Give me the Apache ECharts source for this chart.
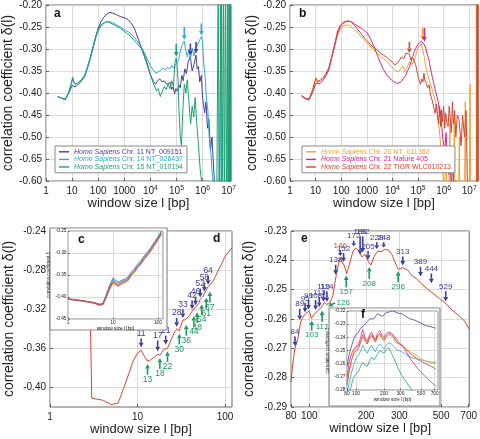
<!DOCTYPE html>
<html><head><meta charset="utf-8">
<script src="https://cdn.jsdelivr.net/npm/echarts@6/dist/echarts.min.js"></script>
<style>html,body{margin:0;padding:0;background:#fff}#c{width:480px;height:439px}</style>
</head><body><div id="c"></div>
<script>
// ---------------- tick labels ----------------
const decadeTicks = [1, 10, 100, 1000, 1e4, 1e5, 1e6, 1e7];
const dTicks = [1, 10, 100];
const eTicks = [80, 100, 200, 300, 500, 700];
const dYTicks = [-0.40, -0.36, -0.32, -0.28, -0.24];

// ---------------- panel a ----------------
const nameA1 = 'Chr. 11 NT_009151', nameA2 = 'Chr. 14 NT_026437', nameA3 = 'Chr. 15 NT_010194';
const aChr11 = [[2.8,-0.408],[4,-0.412],[5.5,-0.415],[7.5,-0.400],[10,-0.383],[11,-0.380],[13,-0.386],[16,-0.382],[22,-0.374],[30,-0.363],[40,-0.340],[50,-0.320],[60,-0.302],[80,-0.272],[100,-0.253],[130,-0.237],[170,-0.227],[220,-0.220],[280,-0.217],[350,-0.218],[500,-0.222],[700,-0.226],[1000,-0.229],[1300,-0.232],[1800,-0.240],[2500,-0.255],[3500,-0.278],[5000,-0.305],[7000,-0.330],[10000,-0.358],[13000,-0.374],[16000,-0.380],[19000,-0.372],[23000,-0.368],[28000,-0.375],[34000,-0.372],[42000,-0.380],[50000,-0.384],[58000,-0.376],[65000,-0.392],[75000,-0.386],[85000,-0.402],[95000,-0.390],[110000,-0.396],[125000,-0.382],[140000,-0.388],[160000,-0.360],[180000,-0.372],[210000,-0.345],[240000,-0.356],[280000,-0.330],[340000,-0.318],[400000,-0.350],[470000,-0.335],[560000,-0.314],[620000,-0.345],[700000,-0.340],[780000,-0.375],[900000,-0.360],[1000000,-0.410],[1200000,-0.445],[1350000,-0.420],[1550000,-0.480],[1750000,-0.460],[2000000,-0.530],[2300000,-0.500],[2700000,-0.580],[3200000,-0.650],[10800000,-0.650],[11200000,-0.100],[11700000,-0.700]];
const aChr14 = [[2.8,-0.408],[4,-0.412],[5.5,-0.414],[7.5,-0.398],[9.5,-0.378],[10.5,-0.366],[11.5,-0.375],[13,-0.380],[16,-0.378],[22,-0.372],[30,-0.362],[40,-0.342],[50,-0.322],[60,-0.304],[80,-0.276],[100,-0.259],[130,-0.247],[170,-0.241],[220,-0.238],[280,-0.238],[350,-0.240],[500,-0.245],[700,-0.250],[1000,-0.256],[1500,-0.262],[2000,-0.268],[3000,-0.280],[5000,-0.300],[7000,-0.318],[10000,-0.338],[13000,-0.348],[16000,-0.355],[20000,-0.352],[25000,-0.348],[30000,-0.343],[38000,-0.348],[45000,-0.342],[55000,-0.345],[65000,-0.338],[80000,-0.343],[95000,-0.335],[120000,-0.325],[140000,-0.305],[165000,-0.290],[200000,-0.282],[230000,-0.305],[260000,-0.318],[300000,-0.300],[340000,-0.325],[400000,-0.298],[470000,-0.315],[560000,-0.300],[660000,-0.288],[760000,-0.292],[900000,-0.272],[1000000,-0.280],[1100000,-0.330],[1250000,-0.360],[1400000,-0.410],[1600000,-0.440],[1800000,-0.500],[2100000,-0.540],[2400000,-0.590],[2800000,-0.640],[4600000,-0.640],[5000000,-0.150],[5300000,-0.700],[8800000,-0.700],[9200000,-0.100],[9800000,-0.700]];
const aChr15 = [[2.8,-0.408],[4,-0.412],[5.5,-0.415],[7.5,-0.398],[9.5,-0.376],[10.5,-0.364],[11.5,-0.372],[13,-0.380],[16,-0.378],[22,-0.371],[30,-0.360],[40,-0.338],[50,-0.318],[60,-0.300],[80,-0.272],[100,-0.256],[130,-0.245],[170,-0.240],[220,-0.238],[280,-0.240],[350,-0.243],[500,-0.248],[700,-0.253],[1000,-0.260],[1500,-0.268],[2000,-0.275],[3000,-0.287],[5000,-0.302],[7000,-0.325],[10000,-0.358],[13000,-0.378],[17000,-0.395],[20000,-0.390],[24000,-0.408],[28000,-0.398],[34000,-0.385],[40000,-0.392],[48000,-0.380],[56000,-0.390],[66000,-0.372],[76000,-0.385],[88000,-0.330],[98000,-0.320],[105000,-0.335],[115000,-0.370],[125000,-0.440],[140000,-0.500],[155000,-0.520],[175000,-0.440],[200000,-0.380],[230000,-0.400],[260000,-0.370],[300000,-0.420],[350000,-0.470],[400000,-0.430],[460000,-0.455],[520000,-0.410],[600000,-0.470],[700000,-0.520],[800000,-0.570],[950000,-0.610],[1200000,-0.650],[3500000,-0.650],[4000000,-0.100],[4300000,-0.700],[5200000,-0.100],[5600000,-0.700],[6300000,-0.120],[6800000,-0.700],[7600000,-0.100],[8200000,-0.700],[9200000,-0.100],[9800000,-0.700],[10600000,-0.100],[11200000,-0.700],[11800000,-0.100],[12300000,-0.700]];
const aArrows11 = [[340000,-0.314,340000,-0.288,0],[560000,-0.310,560000,-0.284,0]];
const aArrows14 = [[200000,-0.279,200000,-0.250,0],[900000,-0.269,900000,-0.242,0]];
const aArrows15 = [[98000,-0.317,98000,-0.288,0]];

// ---------------- panel b ----------------
const nameB1 = 'Chr. 20 NT_011362', nameB2 = 'Chr. 21 Nature 405', nameB3 = 'Chr. 22 TIGR WLC010213';
const bChr20 = [[2.8,-0.406],[4,-0.412],[5.5,-0.414],[7.5,-0.395],[9.5,-0.376],[10.5,-0.370],[12,-0.377],[15,-0.372],[20,-0.366],[26,-0.356],[33,-0.343],[42,-0.320],[55,-0.296],[70,-0.272],[90,-0.256],[115,-0.248],[150,-0.246],[190,-0.245],[250,-0.250],[330,-0.256],[450,-0.264],[600,-0.271],[800,-0.279],[1060,-0.287],[1500,-0.296],[1900,-0.302],[2600,-0.310],[3400,-0.317],[4500,-0.322],[6000,-0.328],[8000,-0.336],[10000,-0.343],[13000,-0.348],[17000,-0.352],[21000,-0.345],[26000,-0.338],[30000,-0.352],[35000,-0.345],[40000,-0.338],[47000,-0.328],[55000,-0.336],[62000,-0.340],[72000,-0.326],[83000,-0.313],[97000,-0.300],[115000,-0.293],[135000,-0.288],[155000,-0.292],[175000,-0.318],[200000,-0.338],[230000,-0.355],[265000,-0.368],[300000,-0.378],[380000,-0.398],[470000,-0.416],[550000,-0.440],[630000,-0.469],[720000,-0.500],[820000,-0.540],[950000,-0.590],[1100000,-0.620],[1250000,-0.520],[1350000,-0.640],[1600000,-0.650],[1750000,-0.470],[1850000,-0.650],[2400000,-0.650],[2600000,-0.450],[2750000,-0.650],[3800000,-0.650],[4100000,-0.500],[4300000,-0.650],[6500000,-0.650],[7000000,-0.420],[7400000,-0.650],[10000000,-0.650],[10800000,-0.380],[11500000,-0.650],[18800000,-0.650],[19000000,-0.100],[19400000,-0.700],[19800000,-0.100],[20200000,-0.700],[20600000,-0.100],[21000000,-0.700]];
const bChr21 = [[2.8,-0.407],[4,-0.413],[5.5,-0.416],[7.5,-0.400],[9.5,-0.383],[10.5,-0.378],[12,-0.382],[15,-0.378],[20,-0.370],[26,-0.360],[33,-0.347],[42,-0.322],[55,-0.293],[70,-0.266],[90,-0.250],[115,-0.242],[150,-0.238],[190,-0.237],[250,-0.238],[330,-0.243],[450,-0.248],[600,-0.253],[800,-0.258],[1000,-0.263],[1300,-0.273],[1900,-0.294],[2600,-0.315],[3400,-0.332],[4500,-0.347],[6000,-0.359],[8000,-0.367],[10000,-0.372],[14500,-0.378],[18000,-0.377],[22000,-0.374],[28000,-0.366],[34000,-0.358],[40000,-0.348],[47000,-0.340],[55000,-0.327],[62000,-0.318],[72000,-0.305],[83000,-0.298],[97000,-0.290],[115000,-0.286],[135000,-0.282],[150000,-0.284],[175000,-0.290],[200000,-0.298],[230000,-0.312],[265000,-0.324],[310000,-0.345],[355000,-0.362],[410000,-0.378],[470000,-0.393],[550000,-0.408],[630000,-0.423],[700000,-0.453],[770000,-0.440],[840000,-0.476],[950000,-0.507],[1100000,-0.530],[1250000,-0.490],[1400000,-0.550],[1600000,-0.585],[1800000,-0.540],[2000000,-0.610],[2300000,-0.560],[2600000,-0.640],[3000000,-0.600],[3500000,-0.680]];
const bChr22 = [[2.8,-0.406],[4,-0.412],[5.5,-0.414],[7.5,-0.394],[9.5,-0.372],[10.5,-0.366],[12,-0.374],[15,-0.371],[20,-0.365],[26,-0.355],[33,-0.342],[42,-0.318],[55,-0.290],[70,-0.262],[90,-0.247],[115,-0.240],[150,-0.237],[190,-0.236],[250,-0.239],[330,-0.246],[450,-0.256],[600,-0.265],[800,-0.275],[1060,-0.282],[1400,-0.290],[1900,-0.297],[2500,-0.302],[3400,-0.309],[4500,-0.314],[6000,-0.319],[8000,-0.325],[10000,-0.330],[12500,-0.336],[15000,-0.333],[19000,-0.325],[23000,-0.318],[28000,-0.322],[34000,-0.309],[40000,-0.306],[46000,-0.312],[53000,-0.325],[60000,-0.318],[70000,-0.320],[80000,-0.335],[95000,-0.355],[110000,-0.372],[125000,-0.380],[140000,-0.368],[155000,-0.375],[170000,-0.355],[185000,-0.372],[210000,-0.378],[240000,-0.388],[270000,-0.382],[310000,-0.405],[355000,-0.416],[410000,-0.432],[470000,-0.446],[520000,-0.425],[580000,-0.455],[640000,-0.470],[700000,-0.430],[760000,-0.476],[830000,-0.438],[900000,-0.465],[1000000,-0.430],[1100000,-0.480],[1200000,-0.445],[1350000,-0.470],[1500000,-0.476],[1650000,-0.430],[1800000,-0.455],[2000000,-0.490],[2200000,-0.420],[2400000,-0.470],[2700000,-0.440],[3000000,-0.500],[3400000,-0.450],[4000000,-0.460],[4800000,-0.520],[5500000,-0.450],[6500000,-0.500],[7500000,-0.440],[8500000,-0.600],[9000000,-0.650],[20000000,-0.650],[20300000,-0.100],[20700000,-0.700],[21100000,-0.100],[21500000,-0.700],[21800000,-0.100],[22000000,-0.700]];
const bArrows20 = [[150000,-0.280,150000,-0.252,0]];
const bArrows21 = [[178000,-0.283,178000,-0.252,0]];
const bArrows22 = [[46000,-0.309,46000,-0.284,0]];

// ---------------- panel c (inset) ----------------
const cLen = [1,2,3,4,5,6,7,8,10,11,13,16,19,22,26,30,35,42,50,60,70,85,100,120];
const c11 = [-0.404,-0.408,-0.411,-0.413,-0.416,-0.414,-0.396,-0.379,-0.357,-0.355,-0.366,-0.362,-0.358,-0.354,-0.342,-0.336,-0.326,-0.317,-0.306,-0.296,-0.287,-0.274,-0.263,-0.250];
const c14 = [-0.404,-0.408,-0.411,-0.414,-0.417,-0.415,-0.398,-0.382,-0.360,-0.358,-0.369,-0.364,-0.361,-0.357,-0.345,-0.339,-0.329,-0.320,-0.309,-0.299,-0.290,-0.277,-0.266,-0.253];
const c15 = [-0.405,-0.409,-0.412,-0.414,-0.418,-0.416,-0.399,-0.384,-0.362,-0.360,-0.371,-0.366,-0.362,-0.358,-0.347,-0.341,-0.331,-0.322,-0.311,-0.301,-0.291,-0.278,-0.267,-0.254];
const c20 = [-0.405,-0.409,-0.412,-0.415,-0.419,-0.418,-0.403,-0.389,-0.369,-0.366,-0.376,-0.371,-0.367,-0.363,-0.351,-0.345,-0.335,-0.326,-0.315,-0.305,-0.296,-0.282,-0.271,-0.259];
const c21 = [-0.405,-0.409,-0.412,-0.415,-0.419,-0.417,-0.402,-0.387,-0.367,-0.364,-0.375,-0.369,-0.365,-0.361,-0.349,-0.343,-0.333,-0.324,-0.313,-0.303,-0.294,-0.281,-0.270,-0.257];
const c22 = [-0.404,-0.408,-0.411,-0.413,-0.4175,-0.416,-0.400,-0.385,-0.365,-0.362,-0.373,-0.368,-0.364,-0.360,-0.348,-0.342,-0.332,-0.323,-0.312,-0.302,-0.293,-0.279,-0.268,-0.256];

// ---------------- panel d ----------------
const dLen = [2.85,3,4,5,6,7,8,9,10,11,12,13,14,15,16,17,18,19,20,21,22,23,24,26,28,30,31,33,35,36,38,40,42,44,46,48,50,52,54,56,58,61,64,67,72,78,85,92,100,110,120];
const dDelta = [-0.300,-0.411,-0.413,-0.4175,-0.416,-0.400,-0.385,-0.372,-0.365,-0.362,-0.368,-0.373,-0.372,-0.370,-0.368,-0.366,-0.367,-0.364,-0.361,-0.359,-0.360,-0.358,-0.352,-0.345,-0.340,-0.342,-0.338,-0.331,-0.331,-0.333,-0.328,-0.325,-0.322,-0.324,-0.318,-0.320,-0.314,-0.310,-0.312,-0.307,-0.304,-0.305,-0.297,-0.299,-0.292,-0.286,-0.279,-0.273,-0.266,-0.261,-0.257];
const dPeakArrows = [[11,-0.359,11,-0.350,11],[17,-0.363,17,-0.352,17],[21,-0.356,21,-0.347,21],[28,-0.338,28,-0.329,28],[33,-0.329,33,-0.320,33],[42,-0.320,42,-0.311,42],[46,-0.316,46,-0.307,46],[52,-0.308,52,-0.299,52],[58,-0.302,58,-0.293,58],[64,-0.295,64,-0.286,64]];
const dDipArrows = [[13,-0.376,13,-0.387,13],[18,-0.370,18,-0.381,18],[22,-0.363,22,-0.374,22],[30,-0.345,30,-0.356,30],[36,-0.336,36,-0.347,36],[44,-0.327,44,-0.338,44],[48,-0.323,48,-0.334,48],[54,-0.315,54,-0.326,54],[61,-0.308,61,-0.319,61],[67,-0.302,67,-0.313,67]];

// ---------------- panel e ----------------
const eLen = [80,81,82.4,84,87,90,92.6,96,100,102.6,106,109,112,116,117.6,120,124,128,133,138.5,142.5,145.5,149,153,158,163,170,175,182,190,198,206,212,220,231,240,250,263,274,288,296,313,332,352,370,392,420,454,490,530,572,618,668,705];
const eDelta = [-0.2815,-0.278,-0.2735,-0.270,-0.2667,-0.261,-0.2593,-0.2581,-0.2573,-0.2598,-0.2585,-0.2576,-0.257,-0.2559,-0.2564,-0.2544,-0.255,-0.2547,-0.2524,-0.2456,-0.2416,-0.2391,-0.2405,-0.2416,-0.2445,-0.2416,-0.2371,-0.2359,-0.2365,-0.2388,-0.238,-0.2405,-0.2416,-0.2388,-0.2368,-0.2371,-0.2363,-0.2365,-0.238,-0.2414,-0.243,-0.2425,-0.2433,-0.2454,-0.2462,-0.2479,-0.2496,-0.2513,-0.253,-0.2547,-0.257,-0.2587,-0.2608,-0.2635];
const ePeakArrows = [[84,-0.2693,84,-0.2660,84],[89,-0.2603,89,-0.2565,89],[95,-0.2578,95,-0.2545,95],[99,-0.2568,99,-0.2535,99],[108,-0.2569,108,-0.2535,108],[113,-0.2559,113,-0.2525,113],[119,-0.2541,119,-0.2505,119],[124,-0.2542,124,-0.2505,124],[138,-0.2449,138,-0.2415,138],[152,-0.2406,152,-0.2375,152],[172,-0.2352,172,-0.2333,172],[186,-0.2381,186,-0.2318,186],[192,-0.2373,192,-0.2318,192],[205,-0.2398,205,-0.2368,205],[228,-0.2361,228,-0.2338,228],[248,-0.2356,248,-0.2338,248],[313,-0.2418,313,-0.2387,313],[389,-0.2455,389,-0.2422,389],[444,-0.2478,444,-0.2445,444],[529,-0.2540,529,-0.2505,529]];
const ePeakArrowsRed = [[146,-0.2385,146,-0.2365,146]];
const eDipArrows = [[103,-0.2605,103,-0.2640,103],[117,-0.2571,117,-0.2610,117],[126,-0.2557,137,-0.2545,126],[157,-0.2452,157,-0.2492,157],[208,-0.2423,208,-0.2463,208],[296,-0.2437,296,-0.2475,296]];

// ---------------- panel f (inset) ----------------
const fLen = [80,85,90,95,100,106,112,118,125,132,140,147,155,162,170,180,190,200,212,225,240,255,270,290,310,340,380,430,490,560,640,720];
const f11 = [-0.262,-0.252,-0.246,-0.241,-0.238,-0.236,-0.233,-0.232,-0.230,-0.228,-0.226,-0.225,-0.226,-0.224,-0.222,-0.223,-0.224,-0.223,-0.221,-0.221,-0.220,-0.220,-0.221,-0.222,-0.222,-0.224,-0.226,-0.227,-0.229,-0.231,-0.232,-0.233];
const f14 = [-0.282,-0.274,-0.266,-0.260,-0.256,-0.254,-0.250,-0.246,-0.250,-0.252,-0.248,-0.246,-0.249,-0.251,-0.247,-0.245,-0.247,-0.249,-0.246,-0.244,-0.245,-0.247,-0.249,-0.250,-0.251,-0.253,-0.255,-0.256,-0.257,-0.258,-0.259,-0.259];
const f15 = [-0.290,-0.282,-0.275,-0.270,-0.268,-0.266,-0.262,-0.259,-0.261,-0.262,-0.258,-0.255,-0.257,-0.258,-0.253,-0.250,-0.251,-0.252,-0.249,-0.248,-0.252,-0.256,-0.260,-0.265,-0.269,-0.273,-0.278,-0.284,-0.290,-0.295,-0.300,-0.305];
const f20 = [-0.274,-0.264,-0.256,-0.250,-0.248,-0.247,-0.243,-0.240,-0.243,-0.245,-0.241,-0.239,-0.242,-0.244,-0.240,-0.238,-0.241,-0.243,-0.240,-0.238,-0.239,-0.241,-0.244,-0.245,-0.246,-0.248,-0.251,-0.253,-0.256,-0.258,-0.259,-0.260];
const f21 = [-0.270,-0.258,-0.252,-0.249,-0.247,-0.246,-0.240,-0.234,-0.240,-0.243,-0.238,-0.236,-0.240,-0.242,-0.237,-0.235,-0.238,-0.240,-0.237,-0.236,-0.237,-0.239,-0.241,-0.244,-0.246,-0.250,-0.256,-0.261,-0.266,-0.270,-0.274,-0.277];
const f22 = [-0.276,-0.265,-0.257,-0.252,-0.250,-0.249,-0.244,-0.238,-0.242,-0.245,-0.240,-0.238,-0.241,-0.243,-0.239,-0.237,-0.240,-0.242,-0.239,-0.237,-0.238,-0.240,-0.243,-0.245,-0.246,-0.249,-0.252,-0.255,-0.258,-0.260,-0.262,-0.264];

// ---------------- styling ----------------
const FF = '"Liberation Sans", Arial, Helvetica, sans-serif';
const COL = {p:'#4b3c9e', c:'#2aa7d6', g:'#20a070', o:'#f2a22e', m:'#d4268c', r:'#d8452f'};
const ARROW_BLUE = '#3d3c9c', ARROW_GREEN = '#1e9a5c';
const GRIDC = '#d2d2d2', AXC = '#444', TXT = '#222';

const zip = (xs, ys) => xs.map((x, i) => [x, ys[i]]);

function decadeFmt(v) {
  const e = Math.round(Math.log10(v));
  return e <= 3 ? '{b|' + Math.round(Math.pow(10, e)) + '}' : '{b|10}{s|' + e + '}';
}
function plainFmt(v) { return String(Math.round(v)); }

function xAxisDef(gi, min, max, ticks, fs, fmt, nameGap, nameFs, z) {
  return {
    type: 'log', logBase: 10, gridIndex: gi, min: min, max: max, z: z || 0,
    axisLine: {show: false},
    axisTick: {show: true, inside: true, length: fs > 6 ? 3 : 1.5, customValues: ticks, lineStyle: {color: AXC, width: 0.8}},
    axisLabel: {customValues: ticks, fontSize: fs, fontFamily: FF, color: TXT, margin: fs > 6 ? 4 : 1.5, formatter: fmt,
      rich: {b: {fontSize: fs, fontFamily: FF, color: TXT, lineHeight: fs * 1.3}, s: {fontSize: fs * 0.68, fontFamily: FF, color: TXT, verticalAlign: 'top', lineHeight: fs * 0.7}}},
    splitLine: {show: true, lineStyle: {color: GRIDC, width: 0.8}},
    name: 'window size l [bp]', nameLocation: 'middle', nameGap: nameGap,
    nameTextStyle: {fontSize: nameFs, fontFamily: FF, color: TXT}
  };
}
function yAxisDef(gi, min, max, interval, custom, fs, fmt, name, nameGap, nameFs, z) {
  const ax = {
    type: 'value', gridIndex: gi, min: min, max: max, z: z || 0,
    axisLine: {show: false},
    axisTick: {show: true, inside: true, length: fs > 6 ? 3 : 1.5, lineStyle: {color: AXC, width: 0.8}},
    axisLabel: {fontSize: fs, fontFamily: FF, color: TXT, margin: fs > 6 ? 4 : 1.5, formatter: fmt},
    splitLine: {show: true, lineStyle: {color: GRIDC, width: 0.8}},
    name: name, nameLocation: 'middle', nameGap: nameGap,
    nameTextStyle: {fontSize: nameFs, fontFamily: FF, color: TXT}
  };
  if (interval) ax.interval = interval;
  if (custom) { ax.axisTick.customValues = custom; ax.axisLabel.customValues = custom; }
  return ax;
}
const fmt2 = v => {
  const k = Math.round(v * 100);
  if (k === -55) return '-0.65';
  return (k / 100).toFixed(2);
};

function line(name, xi, data, color, z, w) {
  return {type: 'line', name: name, xAxisIndex: xi, yAxisIndex: xi, data: data, showSymbol: false, symbol: 'none',
    lineStyle: {color: color, width: w || 1}, itemStyle: {color: color}, z: z || 2, silent: true, animation: false, clip: true};
}

function arrowSeries(xi, data, color, txtColor, fs, z) {
  return {
    type: 'custom', xAxisIndex: xi, yAxisIndex: xi, z: z || 5, silent: true, clip: false,
    dimensions: ['xt', 'yt', 'xf', 'yf', 'lab'], encode: {x: 0, y: 1},
    data: data,
    renderItem: function (params, api) {
      const t = api.coord([api.value(0), api.value(1)]);
      const f = api.coord([api.value(2), api.value(3)]);
      const dx = t[0] - f[0], dy = t[1] - f[1];
      const L = Math.sqrt(dx * dx + dy * dy) || 1;
      const ux = dx / L, uy = dy / L;
      const hl = Math.min(4.5, L * 0.55), hw = 2.4;
      const bx = t[0] - ux * hl, by = t[1] - uy * hl;
      const ch = [
        {type: 'line', shape: {x1: f[0], y1: f[1], x2: bx, y2: by}, style: {stroke: color, lineWidth: 1.6}},
        {type: 'polygon', shape: {points: [[t[0], t[1]], [bx - uy * hw, by + ux * hw], [bx + uy * hw, by - ux * hw]]}, style: {fill: color}}
      ];
      const lab = api.value(4);
      if (lab) {
        let align = 'center', va = uy > 0 ? 'bottom' : 'top', x = f[0], y = f[1] + (uy > 0 ? -0.5 : 0.5);
        if (Math.abs(ux) > Math.abs(uy)) { align = ux < 0 ? 'left' : 'right'; va = 'middle'; x = f[0] + (ux < 0 ? 1.5 : -1.5); y = f[1]; }
        ch.push({type: 'text', x: x, y: y, style: {text: String(lab), fill: txtColor, fontSize: fs, fontFamily: FF, align: align, verticalAlign: va}});
      }
      return {type: 'group', children: ch};
    }
  };
}

function legendDef(left, top, items) {
  return {
    left: left, top: top, orient: 'vertical', itemGap: 0, itemWidth: 10, itemHeight: 1.4, icon: 'rect',
    padding: [2, 4, 2, 4], borderColor: '#8a8a8a', borderWidth: 1, backgroundColor: '#fff',
    selectedMode: false,
    data: items.map(it => ({name: it[0], itemStyle: {color: it[1]}, textStyle: {color: it[1], rich: {i: {fontStyle: 'italic', color: it[1], fontSize: 7, fontFamily: FF}}}})),
    textStyle: {fontSize: 7, fontFamily: FF, lineHeight: 7.6},
    formatter: n => '{i|Homo Sapiens} ' + n
  };
}

const chart = echarts.init(document.getElementById('c'), null, {renderer: 'canvas'});
const letter = (t, l, tp) => ({text: t, left: l, top: tp, padding: 0, z: 20, textStyle: {fontSize: 12, fontWeight: 'bold', fontFamily: FF, color: '#111'}});

const option = {
  animation: false,
  backgroundColor: '#fff',
  title: [letter('a', 54, 8), letter('b', 299, 8), letter('c', 78, 234), letter('d', 213, 233), letter('e', 301, 233), letter('f', 361, 309)],
  grid: [
    {left: 46, top: 5, width: 185, height: 176, show: true, borderColor: AXC, borderWidth: 0.8, backgroundColor: 'transparent'},
    {left: 290, top: 5, width: 188, height: 176, show: true, borderColor: AXC, borderWidth: 0.8, backgroundColor: 'transparent'},
    {left: 50, top: 231, width: 182, height: 176, show: true, borderColor: AXC, borderWidth: 0.8, backgroundColor: 'transparent'},
    {left: 291, top: 231, width: 187, height: 176, show: true, borderColor: AXC, borderWidth: 0.8, backgroundColor: 'transparent'},
    {left: 68, top: 231, width: 95, height: 88, show: true, borderColor: AXC, borderWidth: 0.6, backgroundColor: '#fff', z: 11},
    {left: 347, top: 311, width: 91, height: 79, show: true, borderColor: AXC, borderWidth: 0.6, backgroundColor: '#fff', z: 11}
  ],
  xAxis: [
    xAxisDef(0, 1, 1.23e7, decadeTicks, 10, decadeFmt, 15, 13),
    xAxisDef(1, 1, 2.2e7, decadeTicks, 10, decadeFmt, 15, 13),
    xAxisDef(2, 1, 120, dTicks, 10, decadeFmt, 15, 13),
    xAxisDef(3, 80, 705, eTicks, 10, plainFmt, 15, 13),
    xAxisDef(4, 1, 130, dTicks, 4.8, plainFmt, 5, 4.8, 11),
    xAxisDef(5, 80, 760, eTicks, 4.8, plainFmt, 5, 4.8, 11)
  ],
  yAxis: [
    yAxisDef(0, -0.6, -0.2, 0.05, null, 10, fmt2, 'correlation coefficient δ(l)', 30, 14),
    yAxisDef(1, -0.6, -0.2, 0.05, null, 10, fmt2, 'correlation coefficient δ(l)', 29, 14),
    yAxisDef(2, -0.42, -0.24, null, dYTicks, 10, fmt2, 'correlation coefficient δ(l)', 34, 14),
    yAxisDef(3, -0.29, -0.23, 0.01, null, 10, fmt2, 'correlation coefficient δ(l)', 35, 14),
    yAxisDef(4, -0.45, -0.25, 0.05, null, 4.8, fmt2, 'correlation coefficient δ', 13, 4.5, 11),
    yAxisDef(5, -0.28, -0.22, 0.01, null, 4.8, fmt2, 'correlation coefficient δ', 13, 4.5, 11)
  ],
  legend: [
    legendDef(55, 146, [[nameA1, COL.p], [nameA2, COL.c], [nameA3, COL.g]]),
    legendDef(302, 146, [[nameB1, COL.o], [nameB2, COL.m], [nameB3, COL.r]])
  ],
  graphic: {elements: [
    {type: 'rect', z: 10, shape: {x: 50, y: 228, width: 117, height: 102}, style: {fill: '#fff', stroke: '#8c8c8c', lineWidth: 1.2}},
    {type: 'rect', z: 10, shape: {x: 329, y: 308, width: 111, height: 98}, style: {fill: '#fff', stroke: '#8c8c8c', lineWidth: 1.2}}
  ]},
  series: [
    line(nameA1, 0, aChr11, COL.p), line(nameA2, 0, aChr14, COL.c), line(nameA3, 0, aChr15, COL.g),
    arrowSeries(0, aArrows11, COL.p, COL.p, 8), arrowSeries(0, aArrows14, COL.c, COL.c, 8), arrowSeries(0, aArrows15, COL.g, COL.g, 8),
    line(nameB1, 1, bChr20, COL.o), line(nameB2, 1, bChr21, COL.m), line(nameB3, 1, bChr22, COL.r),
    arrowSeries(1, bArrows20, COL.o, COL.o, 8), arrowSeries(1, bArrows21, COL.m, COL.m, 8), arrowSeries(1, bArrows22, COL.r, COL.r, 8),
    line('d22', 2, zip(dLen, dDelta), COL.r, 2, 1),
    arrowSeries(2, dPeakArrows, ARROW_BLUE, ARROW_BLUE, 8.5), arrowSeries(2, dDipArrows, ARROW_GREEN, ARROW_GREEN, 8.5),
    line('e22', 3, zip(eLen, eDelta), COL.r, 2, 1),
    arrowSeries(3, ePeakArrows, ARROW_BLUE, ARROW_BLUE, 8), arrowSeries(3, ePeakArrowsRed, ARROW_BLUE, COL.r, 8),
    arrowSeries(3, eDipArrows, ARROW_GREEN, ARROW_GREEN, 8),
    line('c11', 4, zip(cLen, c11), COL.p, 12, 0.7), line('c14', 4, zip(cLen, c14), COL.c, 12, 0.7), line('c15', 4, zip(cLen, c15), COL.g, 12, 0.7),
    line('c20', 4, zip(cLen, c20), COL.o, 12, 0.7), line('c21', 4, zip(cLen, c21), COL.m, 12, 0.7), line('c22', 4, zip(cLen, c22), COL.r, 12, 0.7),
    line('f11', 5, zip(fLen, f11), COL.p, 12, 0.8), line('f14', 5, zip(fLen, f14), COL.c, 12, 0.8), line('f15', 5, zip(fLen, f15), COL.g, 12, 0.8),
    line('f20', 5, zip(fLen, f20), COL.o, 12, 0.8), line('f21', 5, zip(fLen, f21), COL.m, 12, 0.8), line('f22', 5, zip(fLen, f22), COL.r, 12, 0.8)
  ]
};
chart.setOption(option);
</script></body></html>
